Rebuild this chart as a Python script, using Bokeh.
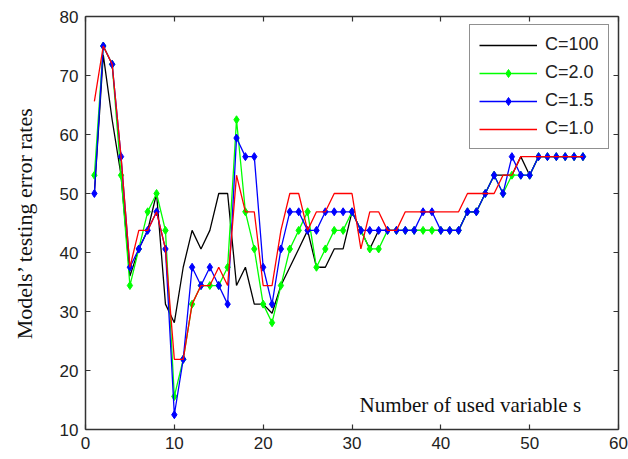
from bokeh.plotting import figure
from bokeh.models import LinearAxis, Label, Legend, LegendItem, FixedTicker, Range1d
from bokeh.embed import file_html
from bokeh.resources import INLINE

x = list(range(1, 57))

c100 = [50, 73.5, 62.5, 53.1, 36, 40.6, 43.75, 50, 31.25, 28.1,
        37.5, 43.75, 40.6, 43.75, 50, 50, 34.4, 37.5, 31.25, 31.25,
        29.7, 34.4, 37.5, 40.6, 43.75, 37.5, 37.5, 40.6, 40.6, 46.9,
        43.75, 40.6, 43.75, 43.75, 43.75, 43.75, 43.75, 43.75, 43.75, 43.75,
        43.75, 43.75, 46.9, 46.9, 50, 53.1, 53.1, 53.1, 56.25, 53.1,
        56.25, 56.25, 56.25, 56.25, 56.25, 56.25]

c20 = [53.1, 75, 71.9, 53.1, 34.4, 40.6, 46.9, 50, 43.75, 15.6,
       21.9, 31.25, 34.4, 34.4, 34.4, 37.5, 62.5, 46.9, 40.6, 31.25,
       28.1, 34.4, 40.6, 43.75, 46.9, 37.5, 40.6, 43.75, 43.75, 46.9,
       43.75, 40.6, 40.6, 43.75, 43.75, 43.75, 43.75, 43.75, 43.75, 43.75,
       43.75, 43.75, 46.9, 46.9, 50, 53.1, 50, 53.1, 53.1, 53.1,
       56.25, 56.25, 56.25, 56.25, 56.25, 56.25]

c15 = [50, 75, 71.9, 56.25, 37.5, 40.6, 43.75, 46.9, 40.6, 12.5,
       21.9, 37.5, 34.4, 37.5, 34.4, 31.25, 59.4, 56.25, 56.25, 37.5,
       31.25, 40.6, 46.9, 46.9, 43.75, 43.75, 46.9, 46.9, 46.9, 46.9,
       43.75, 43.75, 43.75, 43.75, 43.75, 43.75, 43.75, 46.9, 46.9, 43.75,
       43.75, 43.75, 46.9, 46.9, 50, 53.1, 50, 56.25, 53.1, 53.1,
       56.25, 56.25, 56.25, 56.25, 56.25, 56.25]

c10 = [65.6, 75, 71.9, 56.25, 37.5, 43.75, 43.75, 46.9, 40.6, 21.9,
       21.9, 31.25, 34.4, 34.4, 37.5, 34.4, 53.1, 46.9, 46.9, 34.4,
       34.4, 43.75, 50, 50, 43.75, 46.9, 46.9, 50, 50, 50,
       40.6, 46.9, 46.9, 43.75, 43.75, 46.9, 46.9, 46.9, 46.9, 46.9,
       46.9, 46.9, 50, 50, 50, 50, 53.1, 53.1, 56.25, 56.25,
       56.25, 56.25, 56.25, 56.25, 56.25, 56.25]

x_ticks = [0, 10, 20, 30, 40, 50, 60]
y_ticks = [10, 20, 30, 40, 50, 60, 70, 80]
legend_labels = ["C=100", "C=2.0", "C=1.5", "C=1.0"]

p = figure(width=628, height=459, output_backend="svg", toolbar_location=None,
           x_range=Range1d(0, 60), y_range=Range1d(10, 80),
           min_border_left=85, min_border_right=10, min_border_top=16,
           min_border_bottom=30)
p.xgrid.visible = False
p.ygrid.visible = False
p.outline_line_color = None
p.background_fill_color = "white"

axis_col = "#333333"
tick_font = "Liberation Sans"

def style_axis(ax, labels=True):
    ax.axis_line_color = axis_col
    ax.axis_line_width = 1.5
    ax.major_tick_line_color = axis_col
    ax.major_tick_line_width = 1.2
    ax.major_tick_in = 5
    ax.major_tick_out = 0
    ax.minor_tick_line_color = None
    if labels:
        ax.major_label_text_font = tick_font
        ax.major_label_text_font_size = "17px"
        ax.major_label_text_color = "#222222"
        ax.major_label_standoff = 7
    else:
        ax.major_label_text_font_size = "1px"
        ax.major_label_text_color = None
        ax.major_label_standoff = 0

p.xaxis.ticker = FixedTicker(ticks=x_ticks)
p.yaxis.ticker = FixedTicker(ticks=y_ticks)
style_axis(p.xaxis[0])
style_axis(p.yaxis[0])

p.yaxis.axis_label = "Models\u2019 testing error rates"
p.yaxis.axis_label_text_font = "Liberation Serif"
p.yaxis.axis_label_text_font_size = "22px"
p.yaxis.axis_label_text_font_style = "normal"
p.yaxis.axis_label_text_color = "#111111"
p.yaxis.axis_label_standoff = 20

top_ax = LinearAxis(ticker=FixedTicker(ticks=x_ticks))
right_ax = LinearAxis(ticker=FixedTicker(ticks=y_ticks))
style_axis(top_ax, labels=False)
style_axis(right_ax, labels=False)
p.add_layout(top_ax, "above")
p.add_layout(right_ax, "right")

lw = 1.3
r1 = p.line(x, c100, line_color="black", line_width=lw)
r2 = p.line(x, c20, line_color="#00ff00", line_width=lw)
r2m = p.scatter(x, c20, marker="diamond", size=8, fill_color="#00ff00", line_color="#00ff00")
r3 = p.line(x, c15, line_color="#0000ff", line_width=lw)
r3m = p.scatter(x, c15, marker="diamond", size=8, fill_color="#0000ff", line_color="#0000ff")
r4 = p.line(x, c10, line_color="#ff0000", line_width=lw)

legend = Legend(items=[
    LegendItem(label=legend_labels[0], renderers=[r1]),
    LegendItem(label=legend_labels[1], renderers=[r2, r2m]),
    LegendItem(label=legend_labels[2], renderers=[r3, r3m]),
    LegendItem(label=legend_labels[3], renderers=[r4]),
])
legend.location = (384, 280)
legend.border_line_color = "#222222"
legend.border_line_width = 1.5
legend.background_fill_color = "white"
legend.background_fill_alpha = 1
legend.label_text_font = tick_font
legend.label_text_font_size = "18px"
legend.label_text_color = "#222222"
legend.glyph_width = 58
legend.glyph_height = 20
legend.label_height = 20
legend.label_standoff = 8
legend.spacing = 7
legend.padding = 9
legend.margin = 0
p.add_layout(legend, "center")

xlabel = Label(x=274, y=25, x_units="screen", y_units="screen",
               text="Number of used variable s",
               text_font="Liberation Serif", text_font_size="21px",
               text_color="#111111", text_baseline="alphabetic")
p.add_layout(xlabel)

open("out.html", "w").write(file_html(p, INLINE))
